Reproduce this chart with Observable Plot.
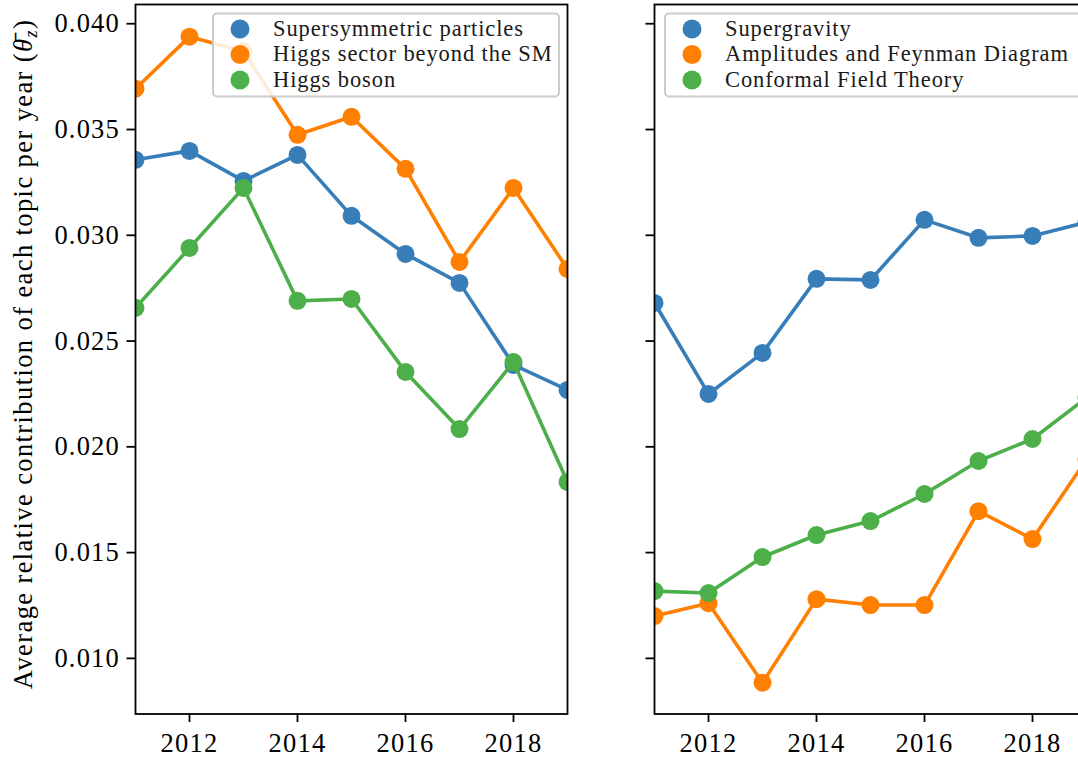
<!DOCTYPE html>
<html>
<head>
<meta charset="utf-8">
<script src="https://cdn.jsdelivr.net/npm/d3@7"></script>
<script src="https://cdn.jsdelivr.net/npm/@observablehq/plot@0.6"></script>
<style>
  html, body { margin: 0; padding: 0; overflow: hidden; background: #fff; }
  #wrap { position: relative; width: 1078px; height: 757px; overflow: hidden; background: #fff; }
  #wrap > .panel { position: absolute; top: 0; }
  #overlay { position: absolute; left: 0; top: 0; pointer-events: none; }
</style>
</head>
<body>
<div id="wrap"></div>
<script>
// ---------- data ----------
const years = [2011, 2012, 2013, 2014, 2015, 2016, 2017, 2018, 2019];

const leftNames = ["Supersymmetric particles", "Higgs sector beyond the SM", "Higgs boson"];
const supersymmetric = [0.03357, 0.03399, 0.03257, 0.03380, 0.03092, 0.02912, 0.02775, 0.02387, 0.02269];
const higgsBSM       = [0.03693, 0.03939, 0.03870, 0.03475, 0.03560, 0.03314, 0.02874, 0.03224, 0.02841];
const higgsBoson     = [0.02657, 0.02940, 0.03224, 0.02690, 0.02699, 0.02354, 0.02084, 0.02401, 0.01834];

const rightNames = ["Supergravity", "Amplitudes and Feynman Diagram", "Conformal Field Theory"];
const supergravity = [0.02680, 0.02250, 0.02444, 0.02794, 0.02789, 0.03073, 0.02988, 0.02997, 0.03062];
const amplitudes   = [0.01200, 0.01261, 0.00885, 0.01280, 0.01252, 0.01252, 0.01696, 0.01564, 0.01940];
const cft          = [0.01318, 0.01309, 0.01479, 0.01583, 0.01649, 0.01777, 0.01933, 0.02037, 0.02232];

const colors = ["#377eb8", "#ff7f00", "#4daf4a"];
const xTicks = [2012, 2014, 2016, 2018];
const yTicks = [0.010, 0.015, 0.020, 0.025, 0.030, 0.035, 0.040];
const yLabel = "Average relative contribution of each topic per year";

// ---------- drawing ----------
const FONT = "'Liberation Serif', 'Times New Roman', serif";
const wrap = document.getElementById("wrap");

function toRows(names, series) {
  return names.flatMap((n, i) => years.map((yr, j) => ({series: n, year: yr, value: series[i][j]})));
}

function panel(names, series, {marginLeft, width, labels}) {
  const rows = toRows(names, series);
  const marks = [];
  names.forEach(n => {
    const d = rows.filter(r => r.series === n);
    marks.push(Plot.line(d, {x: "year", y: "value", stroke: "series", strokeWidth: 3.6, clip: true}));
    marks.push(Plot.dot(d, {x: "year", y: "value", fill: "series", r: 9, clip: true}));
  });
  marks.push(Plot.frame({stroke: "#000", strokeWidth: 1.8}));
  marks.push(Plot.axisX(xTicks, {tickFormat: d => String(d), tickSize: 8.5, tickPadding: 11, strokeWidth: 1.8, fontSize: 26.5, label: null}));
  marks.push(Plot.axisY(yTicks, {tickFormat: labels ? d3.format(".3f") : () => "", tickSize: 8.5, tickPadding: 7, strokeWidth: 1.8, fontSize: 26.5, label: null}));
  return Plot.plot({
    width, height: 757,
    marginTop: 4, marginBottom: 43.5, marginLeft, marginRight: 2,
    x: {domain: [2011, 2019]},
    y: {domain: [0.00737, 0.04091]},
    color: {domain: names, range: colors},
    style: {fontFamily: FONT, fontSize: "26.5px", letterSpacing: "1.2px", color: "#000", background: "transparent", overflow: "visible"},
    marks
  });
}

const left = panel(leftNames, [supersymmetric, higgsBSM, higgsBoson], {marginLeft: 135, width: 569, labels: true});
left.classList.add("panel");
left.style.left = "0px";
wrap.appendChild(left);

const right = panel(rightNames, [supergravity, amplitudes, cft], {marginLeft: 20, width: 454, labels: false});
right.classList.add("panel");
right.style.left = "634px";
wrap.appendChild(right);

// y-axis label
const ls = d3.select(left);
const t = ls.append("text")
  .attr("transform", "translate(32,354) rotate(-90)")
  .attr("text-anchor", "middle")
  .attr("font-family", FONT)
  .attr("font-size", 26.5)
  .attr("letter-spacing", 1.4)
  .attr("fill", "#000");
t.append("tspan").text(yLabel + " (");
t.append("tspan").attr("font-style", "italic").text("\u03B8\u0304");
t.append("tspan").attr("font-style", "italic").attr("font-size", 18).attr("dy", 5).text("z");
t.append("tspan").attr("dy", -5).text(")");

// legends
const overlay = d3.select(wrap).append("svg")
  .attr("id", "overlay").attr("width", 1078).attr("height", 757);

function legend(names, {x, w}) {
  const g = overlay.append("g");
  g.append("rect").attr("x", x).attr("y", 13.5).attr("width", w).attr("height", 83)
    .attr("rx", 4).attr("fill", "rgba(255,255,255,0.85)").attr("stroke", "#cccccc").attr("stroke-width", 2);
  names.forEach((n, i) => {
    const cy = 29 + i * 25.5;
    g.append("circle").attr("cx", x + 27).attr("cy", cy).attr("r", 9.5).attr("fill", colors[i]);
    g.append("text").attr("x", x + 60).attr("y", cy + 6.5)
      .attr("font-family", FONT).attr("font-size", 22.5).attr("letter-spacing", 0.9)
      .attr("fill", "#1a1a1a").text(n);
  });
}
legend(leftNames, {x: 213, w: 346});
legend(rightNames, {x: 665, w: 430});
</script>
</body>
</html>
